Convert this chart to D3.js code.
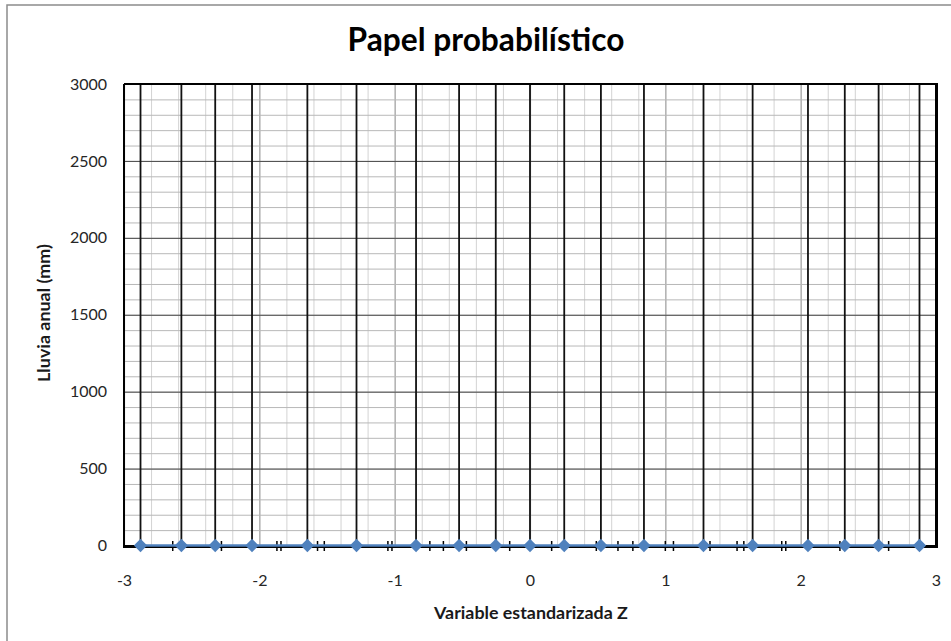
<!DOCTYPE html>
<html><head><meta charset="utf-8">
<script src="https://cdn.jsdelivr.net/npm/d3@7/dist/d3.min.js"></script>
<style>
body{margin:0;background:#fff;}
svg{display:block;font-family:Lato,"Open Sans",sans-serif;}
</style></head>
<body><svg id="c" width="951" height="641"></svg>
<script>
// ---- data ----
const zValues = [-2.878, -2.576, -2.326, -2.054, -1.645, -1.282, -0.842, -0.524, -0.253, 0,
                 0.253, 0.524, 0.842, 1.282, 1.645, 2.054, 2.326, 2.576, 2.878];
const rainValues = [0,0,0,0,0,0,0,0,0,0,0,0,0,0,0,0,0,0,0];
const xTicks = [-3,-2,-1,0,1,2,3];
const yTicks = [0,500,1000,1500,2000,2500,3000];
const xMinorGrid = d3.range(-30, 31, 2).map(d => d/10);
const yMinorGrid = d3.range(0, 3001, 100);
const axisMarks = [-2.64,-2.28,-1.87,-1.84,-1.57,-1.52,-1.05,-1.02,-0.74,-0.64,-0.47,-0.15,
                   0.16,0.49,0.65,0.76,1.00,1.06,1.33,1.53,1.58,1.86,1.89,2.29,2.65];
const titleText = "Papel probabilístico";
const xLabel = "Variable estandarizada Z";
const yLabel = "Lluvia anual (mm)";

// ---- layout ----
const L = 124, R = 936, T = 84, B = 545.5;
const svg = d3.select("#c");
const x = d3.scaleLinear().domain([-3,3]).range([L,R]);
const y = d3.scaleLinear().domain([0,3000]).range([B,T]);

// outer border
svg.append("rect").attr("x",7).attr("y",5).attr("width",980).attr("height",680)
  .attr("fill","#fff").attr("stroke","#8c8c8c").attr("stroke-width",1.5);

// gridlines
const g = svg.append("g");
g.append("g").attr("transform",`translate(0,${B})`)
  .call(d3.axisBottom(x).tickValues(xMinorGrid).tickSize(-(B-T)).tickFormat(""))
  .call(a=>{a.select(".domain").remove();a.selectAll("line").attr("stroke","#d3d3d3").attr("stroke-width",1);});
g.append("g").attr("transform",`translate(0,${B})`)
  .call(d3.axisBottom(x).tickValues(xTicks).tickSize(-(B-T)).tickFormat(""))
  .call(a=>{a.select(".domain").remove();a.selectAll("line").attr("stroke","#a8a8a8").attr("stroke-width",1.2);});
g.append("g").attr("transform",`translate(${L},0)`)
  .call(d3.axisLeft(y).tickValues(yMinorGrid).tickSize(-(R-L)).tickFormat(""))
  .call(a=>{a.select(".domain").remove();a.selectAll("line").attr("stroke","#b8b8b8").attr("stroke-width",1);});
g.append("g").attr("transform",`translate(${L},0)`)
  .call(d3.axisLeft(y).tickValues(yTicks).tickSize(-(R-L)).tickFormat(""))
  .call(a=>{a.select(".domain").remove();a.selectAll("line").attr("stroke","#4a4a4a").attr("stroke-width",1);});

// vertical probability lines
svg.append("g").selectAll("line").data(zValues).join("line")
  .attr("x1",d=>x(d)).attr("x2",d=>x(d))
  .attr("y1",y(0)).attr("y2",y(3000))
  .attr("stroke","#111").attr("stroke-width",1.8);

// frame
svg.append("line").attr("x1",L).attr("x2",R).attr("y1",T).attr("y2",T).attr("stroke","#000").attr("stroke-width",2);
svg.append("line").attr("x1",L).attr("x2",L).attr("y1",T).attr("y2",B+1).attr("stroke","#000").attr("stroke-width",2);
svg.append("line").attr("x1",R+0.5).attr("x2",R+0.5).attr("y1",T-1).attr("y2",B+2.5).attr("stroke","#000").attr("stroke-width",3);
svg.append("line").attr("x1",L-1).attr("x2",R+2).attr("y1",B+1).attr("y2",B+1).attr("stroke","#000").attr("stroke-width",3);

// small axis marks
svg.append("g").selectAll("line").data(axisMarks).join("line")
  .attr("x1",d=>x(d)).attr("x2",d=>x(d))
  .attr("y1",B-4.5).attr("y2",B+5.5)
  .attr("stroke","#000").attr("stroke-width",1.5);

// tick labels
const fmt = d => String(d);
svg.append("g").attr("transform",`translate(0,${B})`)
  .call(d3.axisBottom(x).tickValues(xTicks).tickSize(0).tickPadding(29).tickFormat(fmt))
  .call(a=>{a.select(".domain").remove();a.selectAll("text").attr("font-size",16).attr("font-family","Lato").attr("fill","#262626");});
svg.append("g").attr("transform",`translate(${L},0)`)
  .call(d3.axisLeft(y).tickValues(yTicks).tickSize(0).tickPadding(17).tickFormat(fmt))
  .call(a=>{a.select(".domain").remove();a.selectAll("text").attr("font-size",16).attr("font-family","Lato").attr("fill","#262626");});

// series line + diamonds
const data = zValues.map((z,i)=>({z, v: rainValues[i]}));
svg.append("path").datum(data)
  .attr("d", d3.line().x(d=>x(d.z)).y(d=>y(d.v)))
  .attr("fill","none").attr("stroke","#4f81bd").attr("stroke-width",2.5);
svg.append("g").selectAll("path").data(data).join("path")
  .attr("d", d3.symbol(d3.symbolSquare, 88))
  .attr("transform", d=>`translate(${x(d.z)},${y(d.v)}) rotate(45)`)
  .attr("fill","#4f81bd");

// texts with width fitting
function fit(sel, target){
  const n = sel.node(); const w = n.getComputedTextLength();
  const fs = parseFloat(sel.attr("font-size"));
  sel.attr("font-size", fs*target/w);
}
const t = svg.append("text").attr("x",486).attr("y",51).attr("text-anchor","middle")
  .attr("font-size",26).attr("font-weight","bold").attr("fill","#000").text(titleText);
fit(t, 277);
const xl = svg.append("text").attr("x",531).attr("y",619).attr("text-anchor","middle")
  .attr("font-size",16).attr("font-weight","bold").attr("fill","#1a1a1a").text(xLabel);
fit(xl, 194);
const yl = svg.append("text").attr("transform","translate(50,313) rotate(-90)").attr("text-anchor","middle")
  .attr("font-size",16).attr("font-weight","bold").attr("fill","#1a1a1a").text(yLabel);
fit(yl, 138);
</script></body></html>
